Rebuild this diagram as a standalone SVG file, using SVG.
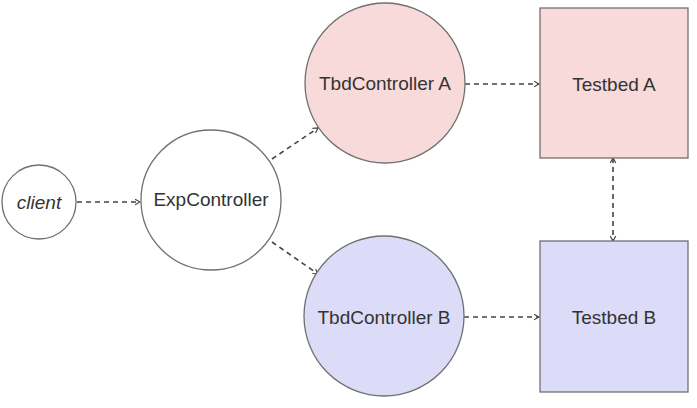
<svg xmlns="http://www.w3.org/2000/svg" width="697" height="408" viewBox="0 0 697 408">
<style>
.node{stroke:#707070;stroke-width:1.3}
.white{fill:#ffffff}
.pink{fill:#f9dada}
.blue{fill:#dcdcf8}
.lbl{font-family:"Liberation Sans",Arial,sans-serif;font-size:19px;fill:#333333;text-anchor:middle;dominant-baseline:central}
.edge{fill:none;stroke:#444444;stroke-width:1.6;stroke-dasharray:5 4}
</style>
<defs>
<marker id="arr" viewBox="0 0 10 10" refX="9" refY="5" markerWidth="7" markerHeight="7" markerUnits="userSpaceOnUse" orient="auto-start-reverse">
<path d="M2,1 L9,5 L2,9" fill="none" stroke="#444444" stroke-width="1.6"/>
</marker>
</defs>
<rect width="697" height="408" fill="#ffffff"/>
<g id="connectors">
<line class="edge" x1="77" y1="202" x2="140" y2="202" marker-end="url(#arr)"/>
<line class="edge" x1="272" y1="159" x2="318" y2="128" marker-end="url(#arr)"/>
<line class="edge" x1="272" y1="242" x2="318" y2="274" marker-end="url(#arr)"/>
<line class="edge" x1="465" y1="84" x2="539" y2="84" marker-end="url(#arr)"/>
<line class="edge" x1="464" y1="317" x2="539" y2="317" marker-end="url(#arr)"/>
<line class="edge" x1="613" y1="158" x2="613" y2="241" marker-start="url(#arr)" marker-end="url(#arr)"/>
</g>
<g id="client">
<circle class="node white" cx="39" cy="202" r="37"/>
<text class="lbl" x="39" y="202" font-style="italic" font-size="20">client</text>
</g>
<g id="expcontroller">
<circle class="node white" cx="211" cy="200" r="70"/>
<text class="lbl" x="211" y="199">ExpController</text>
</g>
<g id="tbdcontroller-a">
<circle class="node pink" cx="385" cy="83" r="80"/>
<text class="lbl" x="385" y="83">TbdController A</text>
</g>
<g id="tbdcontroller-b">
<circle class="node blue" cx="384" cy="316" r="80"/>
<text class="lbl" x="384" y="317">TbdController B</text>
</g>
<g id="testbed-a">
<rect class="node pink" x="540" y="8" width="148" height="150"/>
<text class="lbl" x="614" y="84">Testbed A</text>
</g>
<g id="testbed-b">
<rect class="node blue" x="540" y="241" width="148" height="151"/>
<text class="lbl" x="614" y="317">Testbed B</text>
</g>
</svg>
